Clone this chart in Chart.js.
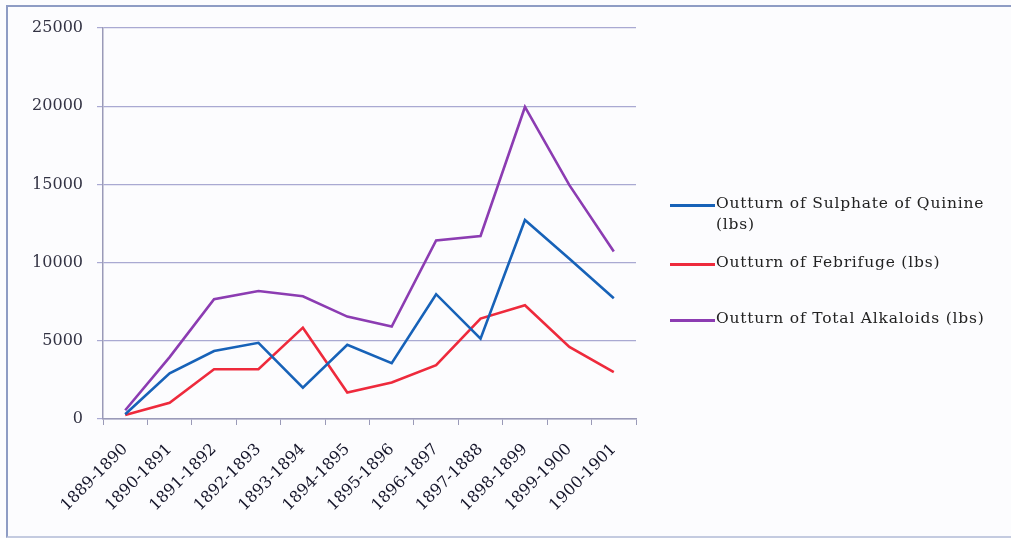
<!DOCTYPE html>
<html lang="en">
<head>
  <meta charset="UTF-8">
  <title>Outturn of Quinine, Febrifuge and Total Alkaloids</title>
  <style>
    body {
      margin: 0;
      background: #fcfcfe;
    }

    .frame {
      position: relative;
      width: 1011px;
      height: 538px;
      overflow: hidden;
    }

    .border {
      position: absolute;
      left: 6px;
      top: 5px;
      width: 1010px;
      height: 529px;
      border-top: 2px solid #8e9cc4;
      border-left: 2px solid #8e9cc4;
      border-bottom: 2px solid #c4cbe0;
    }

    canvas {
      position: absolute;
      left: 0;
      top: 0;
    }

    .legend {
      position: absolute;
      left: 670px;
      top: 193px;
      font-family: 'DejaVu Serif', serif;
      font-size: 15.5px;
      letter-spacing: 0.8px;
      color: #222;
    }

    .legend .item {
      position: relative;
      padding-left: 46px;
      line-height: 21px;
      width: 320px;
    }

    .legend .swatch {
      position: absolute;
      left: 0;
      top: 11px;
      width: 45px;
      height: 3px;
    }
  </style>

  <script src="https://cdn.jsdelivr.net/npm/chart.js"></script>
</head>
<body>
  <div class="frame">
    <div class="border"></div>
    <canvas id="outturnChart" width="1011" height="538"></canvas>
    <div class="legend" id="legend"></div>
  </div>

  <script>
    // seasons on the x axis
    const seasons = ['1889-1890', '1890-1891', '1891-1892', '1892-1893', '1893-1894', '1894-1895',
                     '1895-1896', '1896-1897', '1897-1888', '1898-1899', '1899-1900', '1900-1901'];

    // outturn in lbs
    const sulphateOfQuinine = [300, 2920, 4350, 4870, 2010, 4740, 3570, 7980, 5130, 12720, 10250, 7720];
    const febrifuge = [250, 1040, 3180, 3180, 5840, 1690, 2340, 3440, 6420, 7270, 4610, 2990];
    const totalAlkaloids = [560, 3960, 7660, 8180, 7850, 6550, 5910, 11420, 11700, 19950, 14950, 10710];

    const yTicks = [0, 5000, 10000, 15000, 20000, 25000];

    const seriesNames = [
      ['Outturn of Sulphate of Quinine', '(lbs)'],
      ['Outturn of Febrifuge (lbs)'],
      ['Outturn of Total Alkaloids (lbs)']
    ];
    const seriesColors = ['#1762b8', '#ee2a3c', '#8c3cb2'];
    const seriesData = [sulphateOfQuinine, febrifuge, totalAlkaloids];

    const font = { family: "'DejaVu Serif', serif", size: 16 };

    const chart = new Chart(document.getElementById('outturnChart'), {
      type: 'line',
      data: {
        labels: seasons,
        datasets: seriesData.map((d, i) => ({
          label: seriesNames[i].join(' '),
          data: d,
          borderColor: seriesColors[i],
          backgroundColor: seriesColors[i],
          borderWidth: 2.6,
          pointRadius: 0,
          tension: 0
        }))
      },
      options: {
        responsive: false,
        animation: false,
        layout: {
          padding: { top: 28, right: 375, left: 0, bottom: 0 }
        },
        plugins: {
          legend: { display: false },
          tooltip: { enabled: false }
        },
        scales: {
          x: {
            offset: true,
            grid: {
              offset: true,
              drawOnChartArea: false,
              tickLength: 6,
              color: '#9a9ab8'
            },
            border: { color: '#9a9ab8', width: 1.5 },
            ticks: {
              font: font,
              color: '#15152a',
              minRotation: 45,
              maxRotation: 45,
              padding: 15,
              autoSkip: false
            },
            afterFit: s => { s.height = 119; }
          },
          y: {
            min: 0,
            max: 25000,
            afterBuildTicks: s => { s.ticks = yTicks.map(v => ({ value: v })); },
            grid: {
              color: '#a9a9d2',
              lineWidth: 1.2,
              tickLength: 6
            },
            border: { color: '#9a9ab8', width: 1.5 },
            ticks: {
              font: font,
              color: '#333344',
              padding: 14,
              callback: v => String(v)
            },
            afterFit: s => { s.width = 103; }
          }
        }
      }
    });

    // legend on the right, built from the dataset names and colours
    const legend = document.getElementById('legend');
    const gaps = [0, 17, 35];
    seriesNames.forEach((lines, i) => {
      const item = document.createElement('div');
      item.className = 'item';
      item.style.marginTop = gaps[i] + 'px';
      item.innerHTML = '<span class="swatch" style="background:' + seriesColors[i] + '"></span>' +
        lines.join('<br>');
      legend.appendChild(item);
    });
  </script>
</body>
</html>
